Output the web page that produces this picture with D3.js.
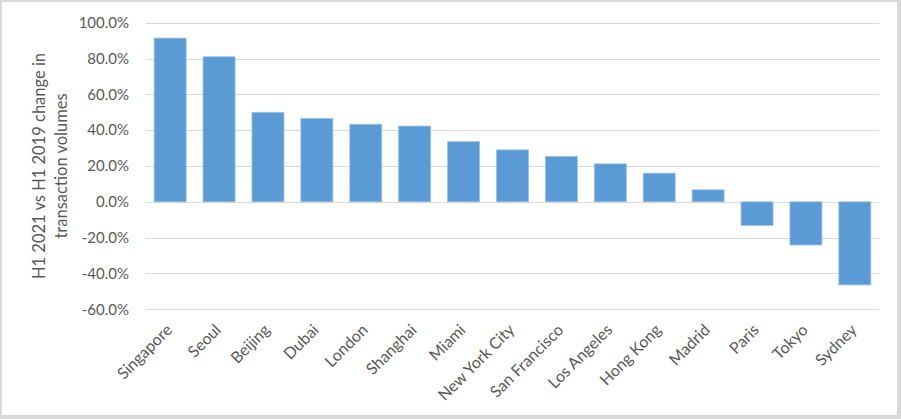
<!DOCTYPE html>
<html><head><meta charset="utf-8">
<script src="https://cdn.jsdelivr.net/npm/d3@7"></script>
<style>
html,body{margin:0;padding:0;background:#fff;}
svg{display:block;}
text{font-family:Lato,"Open Sans",sans-serif;fill:#595959;}
</style></head>
<body><svg id="c" width="901" height="419"></svg>
<script>
const categories = ["Singapore","Seoul","Beijing","Dubai","London","Shanghai","Miami","New York City","San Francisco","Los Angeles","Hong Kong","Madrid","Paris","Tokyo","Sydney"];
const values = [0.914,0.810,0.500,0.466,0.433,0.423,0.336,0.290,0.254,0.212,0.160,0.067,-0.132,-0.241,-0.464];
const yTicks = [-0.6,-0.4,-0.2,0,0.2,0.4,0.6,0.8,1.0];
const yTitle = ["H1 2021 vs H1 2019 change in","transaction volumes"];

const svg = d3.select("#c");
svg.append("rect").attr("x",0).attr("y",0).attr("width",901).attr("height",419).attr("fill","#d9d9d9");
svg.append("rect").attr("x",2).attr("y",2).attr("width",895).attr("height",413).attr("fill","#fff");

const x = d3.scaleBand().domain(categories).range([145.7,879.3]).paddingInner(0.345).paddingOuter(0.1725);
const y = d3.scaleLinear().domain([-0.6,1.0]).range([309.3,22.7]);

// gridlines
svg.append("g").selectAll("line").data(yTicks).join("line")
  .attr("x1",145.7).attr("x2",879.3)
  .attr("y1",d=>Math.round(y(d))+0.5).attr("y2",d=>Math.round(y(d))+0.5)
  .attr("stroke","#d9d9d9").attr("stroke-width",1);

// y axis labels
const pct = d => (d*100).toFixed(1).replace("\u2212","-") + "%";
const yAxis = d3.axisLeft(y).tickValues(yTicks).tickFormat(pct).tickSize(0).tickPadding(0);
const ga = svg.append("g").attr("transform","translate(129,0)").call(yAxis);
ga.select(".domain").remove();
ga.selectAll("text").style("font-size","15px").attr("fill","#595959").attr("font-family","Lato");

// bars
svg.append("g").selectAll("rect").data(values).join("rect")
  .attr("x",(d,i)=>x(categories[i]))
  .attr("width",x.bandwidth())
  .attr("y",d=>y(Math.max(0,d)))
  .attr("height",d=>Math.abs(y(d)-y(0)))
  .attr("fill","#5b9bd5").attr("stroke","#9dc3e6").attr("stroke-width",0.8);

// x labels
const xAxis = d3.axisBottom(x).tickSize(0).tickPadding(0);
const gx = svg.append("g").attr("transform","translate(0,316)").call(xAxis);
gx.select(".domain").remove();
gx.selectAll("text")
  .style("font-size","16px").attr("fill","#595959").attr("font-family","Lato")
  .attr("text-anchor","end").attr("dy","0.35em").attr("y",0)
  .attr("transform","translate(-1,11) rotate(-45)");

// y title
const t = svg.append("text").attr("transform","translate(45,166) rotate(-90)")
  .attr("text-anchor","middle").style("font-size","16.5px");
t.selectAll("tspan").data(yTitle).join("tspan")
  .attr("x",0).attr("dy",(d,i)=>i===0?0:21.5).text(d=>d);
</script></body></html>
